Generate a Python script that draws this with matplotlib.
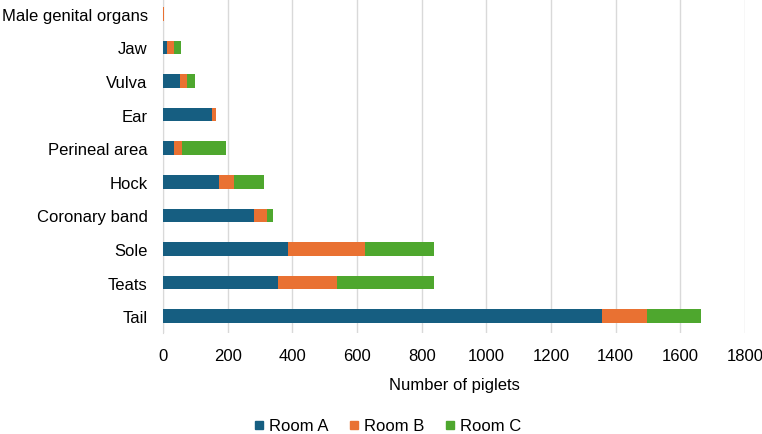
import numpy as np
import matplotlib.pyplot as plt
from matplotlib.lines import Line2D

plt.rcParams['font.family'] = ['Liberation Sans', 'DejaVu Sans']

# data, bottom to top as drawn
sites = ["Tail", "Teats", "Sole", "Coronary band", "Hock", "Perineal area",
         "Ear", "Vulva", "Jaw", "Male genital organs"]
room_a = [1358, 355, 387, 281, 173, 35, 150, 54, 13, 1]
room_b = [139, 183, 237, 42, 46, 25, 13, 19, 20, 1]
room_c = [166, 300, 213, 18, 92, 134, 2, 25, 24, 2]
rooms = ["Room A", "Room B", "Room C"]
colors = ["#165E81", "#E97132", "#4EA72E"]

fig = plt.figure(figsize=(7.62, 4.35), dpi=100)
ax = fig.add_axes([163/762, 1 - 334/435, (745-163)/762, 336/435])

y = np.arange(len(sites))
left = np.zeros(len(sites))
for vals, name, col in zip([room_a, room_b, room_c], rooms, colors):
    ax.barh(y, vals, left=left, height=0.4, color=col, label=name, zorder=3)
    left += np.array(vals)

ax.set_xlim(0, 1800)
ax.set_ylim(-0.5, len(sites) - 0.5)
ax.set_xticks(np.arange(0, 1801, 200))
ax.set_yticks(y)
ax.set_yticklabels(sites)
ax.grid(axis='x', color='#D9D9D9', linewidth=1, zorder=0)
for s in ['top', 'right', 'bottom']:
    ax.spines[s].set_visible(False)
ax.spines['left'].set_color('#D9D9D9')
ax.tick_params(axis='both', length=0, labelsize=12, colors='#000000')
ax.tick_params(axis='x', pad=11)
ax.tick_params(axis='y', pad=11)
ax.set_xlabel("Number of piglets", fontsize=12, labelpad=10)

# square legend markers like the original
handles = [Line2D([], [], marker='s', linestyle='', markersize=6, color=c) for c in colors]
fig.legend(handles, rooms, loc='center', bbox_to_anchor=(388/762, 1 - 427/435), ncol=3,
           frameon=False, fontsize=12, handlelength=0.5,
           columnspacing=1.3, handletextpad=0.35)

fig.savefig("out.png", dpi=100)
